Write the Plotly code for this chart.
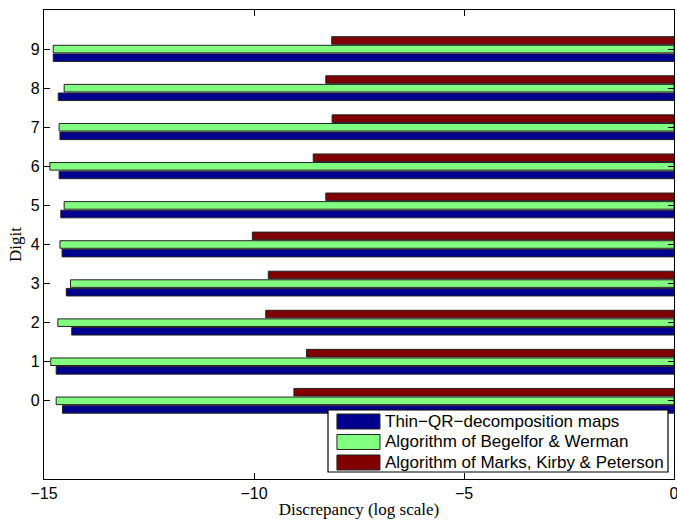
import plotly.graph_objects as go

digits = [0, 1, 2, 3, 4, 5, 6, 7, 8, 9]

# log10 discrepancy per digit for each method
thin_qr = [-14.56, -14.71, -14.34, -14.47, -14.57, -14.60, -14.64, -14.62, -14.66, -14.78]
begelfor_werman = [-14.71, -14.84, -14.67, -14.37, -14.62, -14.52, -14.86, -14.64, -14.52, -14.78]
marks_kirby_peterson = [-9.05, -8.75, -9.72, -9.66, -10.04, -8.29, -8.59, -8.14, -8.29, -8.15]

series = [
    ("Thin\u2212QR\u2212decomposition maps", thin_qr, "#00008F"),
    ("Algorithm of Begelfor &amp; Werman", begelfor_werman, "#80FF80"),
    ("Algorithm of Marks, Kirby &amp; Peterson", marks_kirby_peterson, "#800000"),
]

OUTLINE = "#222222"
SANS = "Liberation Sans, Arial, Helvetica"
SERIF = "Liberation Serif, Times New Roman, serif"

fig = go.Figure()
for name, vals, color in series:
    fig.add_trace(go.Bar(
        y=digits, x=vals, orientation="h", name=name,
        marker=dict(color=color, line=dict(color=OUTLINE, width=1)),
        showlegend=False,
    ))

axis_common = dict(
    showline=True, linecolor="black", linewidth=1.2, mirror="ticks",
    ticks="inside", ticklen=6, tickcolor="black", showgrid=False, zeroline=False,
    automargin=False,
    tickfont=dict(family=SANS, size=16, color="black"),
)

# boxed legend with wide swatches, lower right corner of the axes
leg_x0, leg_x1, leg_y0, leg_y1 = 0.4508, 0.9905, 0.0149, 0.1471
sw_x0, sw_x1, sw_half = 0.465, 0.5333, 0.016
row_y = [0.1226, 0.0789, 0.0352]
shapes = [dict(type="rect", xref="paper", yref="paper",
               x0=leg_x0, x1=leg_x1, y0=leg_y0, y1=leg_y1,
               fillcolor="white", line=dict(color="black", width=1.2), layer="above")]
annotations = []
for (name, _, color), yc in zip(series, row_y):
    shapes.append(dict(type="rect", xref="paper", yref="paper",
                       x0=sw_x0, x1=sw_x1, y0=yc - sw_half, y1=yc + sw_half,
                       fillcolor=color, line=dict(color=OUTLINE, width=1), layer="above"))
    annotations.append(dict(xref="paper", yref="paper", x=0.538, y=yc,
                            xanchor="left", yanchor="middle", showarrow=False,
                            text=name, font=dict(family=SANS, size=17, color="black")))

fig.update_layout(
    width=677, height=520,
    margin=dict(l=44, r=3, t=10, b=41),
    paper_bgcolor="white", plot_bgcolor="white",
    barmode="group", bargap=0.34, bargroupgap=0.12,
    xaxis=dict(range=[-15, 0], tickvals=[-15, -10, -5, 0],
               ticktext=["\u221215", "\u221210", "\u22125", "0"],
               ticklabeloverflow="allow",
               title=dict(text="Discrepancy (log scale)", standoff=1,
                          font=dict(family=SERIF, size=17, color="black")),
               **axis_common),
    yaxis=dict(range=[-2, 10], tickvals=digits,
               title=dict(text="Digit", standoff=4,
                          font=dict(family=SERIF, size=17, color="black")),
               **axis_common),
    shapes=shapes,
    annotations=annotations,
    showlegend=False,
)

fig.write_html("out.html")
